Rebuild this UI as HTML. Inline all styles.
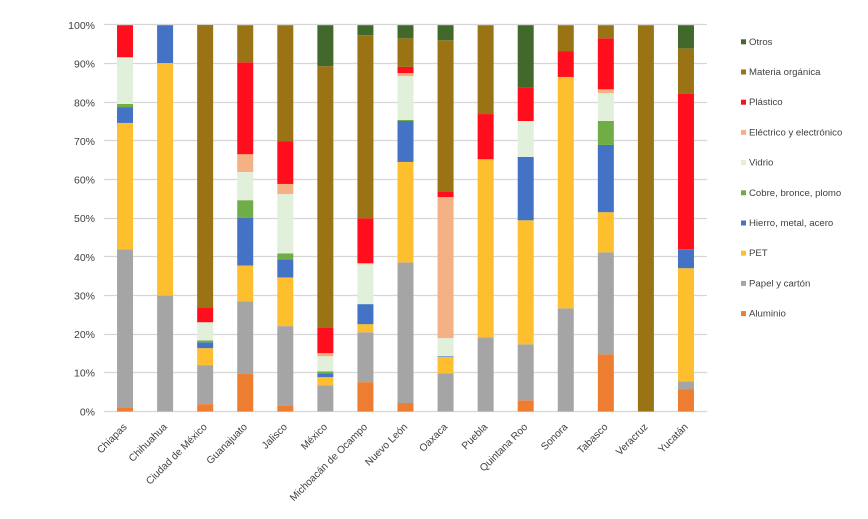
<!DOCTYPE html>
<html lang="es">
<head>
<meta charset="utf-8">
<title>Composición de residuos por estado</title>
<style>
html,body{margin:0;padding:0;background:#fff;}
svg{display:block;font-family:"Liberation Sans",sans-serif;}
</style>
</head>
<body>
<svg id="chart" xmlns="http://www.w3.org/2000/svg" width="868" height="519" viewBox="0 0 868 519">
<rect width="868" height="519" fill="#ffffff"/>
<g id="grid"></g>
<g id="bars"></g>
<g id="yaxis"></g>
<g id="xaxis"></g>
<g id="legend"></g>
</svg>
<script>
const categories = ["Chiapas","Chihuahua","Ciudad de México","Guanajuato","Jalisco","México","Michoacán de Ocampo","Nuevo León","Oaxaca","Puebla","Quintana Roo","Sonora","Tabasco","Veracruz","Yucatán"];
const yTicks = [0,10,20,30,40,50,60,70,80,90,100];
const aluminio = [1.1,0,1.9,9.7,1.6,0,7.6,2.2,0,0,2.9,0,14.8,0,5.8];
const papel = [40.9,30,10.1,18.8,20.5,6.8,12.9,36.4,9.9,19.2,14.5,26.7,26.4,0,2.0];
const pet = [32.7,60.2,4.4,9.3,12.6,2.1,2.1,26.0,4.2,46.1,32.1,59.9,10.4,0,29.3];
const hierro = [4.1,9.8,1.5,12.3,4.7,1.0,5.2,10.6,0.2,0,16.4,0,17.4,0,4.9];
const cobre = [0.8,0,0.5,4.6,1.5,0.5,0,0.3,0,0,0,0,6.2,0,0];
const vidrio = [12.1,0,4.7,7.3,15.4,3.9,10.3,11.3,4.7,0,9.3,0,7.2,0,0];
const electrico = [0,0,0,4.6,2.6,0.8,0.3,0.8,36.5,0,0,0,1.0,0,0];
const plastico = [8.3,0,3.9,23.8,11.1,6.7,11.6,1.6,1.5,11.7,8.7,6.7,13.2,0,40.2];
const organica = [0,0,72.8,9.6,30,67.6,47.4,7.4,39.1,23,0,6.7,3.4,100,11.8];
const otros = [0,0,0.2,0,0,10.6,2.6,3.4,3.9,0,16.1,0,0,0,6.0];
const seriesNames = ["Aluminio","Papel y cartón","PET","Hierro, metal, acero","Cobre, bronce, plomo","Vidrio","Eléctrico y electrónico","Plástico","Materia orgánica","Otros"];
const seriesColors = ["#ED7D31","#A5A5A5","#FDBF2D","#4472C4","#70AD47","#E2EFDA","#F4B183","#FF0F1E","#997314","#43682B"];
const seriesValues = [aluminio,papel,pet,hierro,cobre,vidrio,electrico,plastico,organica,otros];

const NS = "http://www.w3.org/2000/svg";
const gridLeft = 104, gridRight = 707;
const bandLeft = 105, bandRight = 706;
const plotTop = 25.2, plotBottom = 411.5, barWidth = 16;
const textColor = "#404040";
function yScale(pct){ return plotBottom - (plotBottom - plotTop) * pct / 100; }
function xCenter(i){ return bandLeft + (bandRight - bandLeft) * (i + 0.5) / categories.length; }
function slug(s){ return s.normalize("NFD").replace(/[\u0300-\u036f]/g,"").toLowerCase().replace(/[^a-z0-9]+/g,"-").replace(/^-|-$/g,""); }
function make(tag, attrs, parent, text){
  const el = document.createElementNS(NS, tag);
  for (const k in attrs) el.setAttribute(k, attrs[k]);
  if (text !== undefined) el.textContent = text;
  parent.appendChild(el);
  return el;
}
const gridG = document.getElementById("grid");
const barsG = document.getElementById("bars");
const yG = document.getElementById("yaxis");
const xG = document.getElementById("xaxis");
const legendG = document.getElementById("legend");

yTicks.forEach(function(t){
  const gy = Math.floor(yScale(t) - 0.2) + 0.5;
  const line = make("line",{x1:gridLeft,x2:gridRight,y1:gy,y2:gy,stroke:"#D6D6D6","stroke-width":1.2},gridG);
  
  
  const label = make("text",{x:95,y:yScale(t)+3.8,"text-anchor":"end","font-size":10.5,fill:textColor},yG,t+"%");
  
  
});

categories.forEach(function(cat,i){
  const cx = xCenter(i);
  let total = 0;
  seriesValues.forEach(function(s){ total += s[i]; });
  let cum = 0;
  seriesValues.forEach(function(s,k){
    const v = s[i];
    if (v <= 0 || total <= 0) return;
    const y1 = yScale(cum / total * 100);
    const y2 = yScale((cum + v) / total * 100);
    const r = make("rect",{x:cx-barWidth/2,y:y2,width:barWidth,height:y1-y2,fill:seriesColors[k]},barsG);
    
    
    cum += v;
  });
  const ax = cx + 2.5, ay = 427.5;
  const lab = make("text",{x:ax,y:ay,"text-anchor":"end","font-size":10.2,fill:textColor,transform:"rotate(-45 "+ax+" "+ay+")"},xG,cat);
  
  
});

for (let k = seriesNames.length - 1, row = 0; k >= 0; k--, row++){
  const cy = 41.8 + row * 30.2;
  const g = make("g",{},legendG);
  
  
  make("rect",{x:741,y:cy-2.5,width:5,height:5,fill:seriesColors[k]},g);
  make("text",{x:749,y:cy+3,"font-size":9.6,fill:textColor},g,seriesNames[k]);
}
</script>
</body>
</html>
